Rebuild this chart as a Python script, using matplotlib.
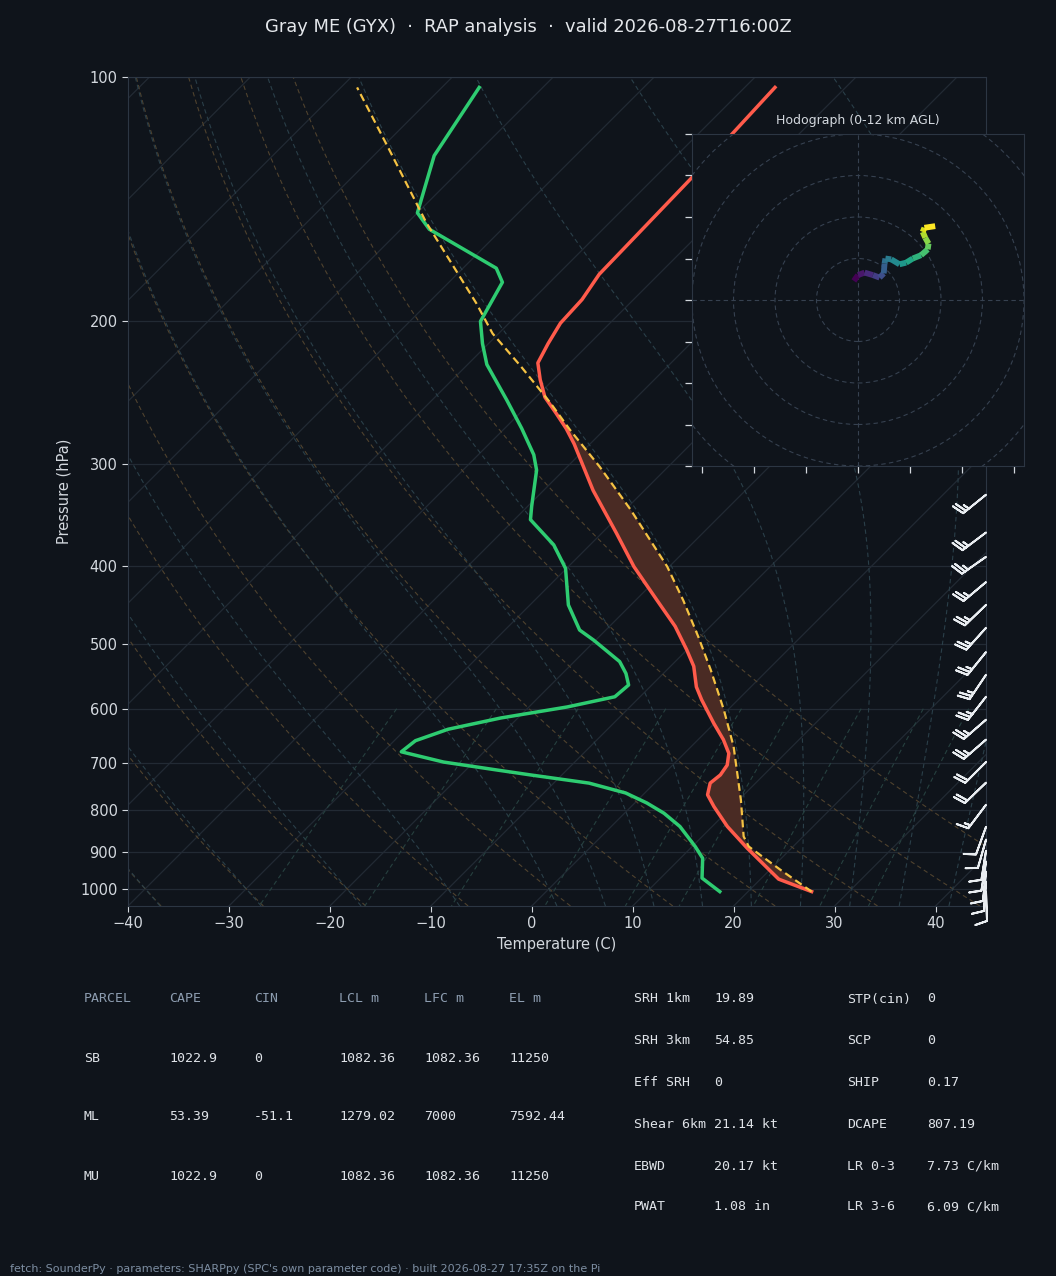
import numpy as np
import matplotlib
matplotlib.use("Agg")
import matplotlib.pyplot as plt
from matplotlib import transforms
from matplotlib.collections import LineCollection
from matplotlib.patches import Circle
from matplotlib.ticker import MultipleLocator, NullLocator, FuncFormatter

# ---- sounding (hPa / degC) ----
temp_p = [1008, 973, 891, 838, 792, 766, 741, 724, 704, 681, 655, 625, 585, 564,
          532, 508, 475, 441, 401, 365, 323, 283, 271, 260, 248, 236, 225, 213,
          201, 188, 175, 133, 103]
temp_c = [26.3, 21.8, 15.6, 11.5, 8.2, 6.4, 5.5, 5.7, 5.4, 4.4, 2.5, -0.1, -3.6, -5.4,
          -7.7, -10.0, -13.5, -17.9, -23.5, -28.5, -35.1, -41.6, -43.9, -46.3, -49.1,
          -51.3, -53.2, -54.1, -54.9, -55.1, -55.9, -56.3, -57.0]

dwpt_p = [1008, 970, 917, 887, 838, 807, 784, 762, 741, 724, 714, 698, 678, 657,
          636, 616, 597, 580, 561, 543, 525, 494, 480, 447, 403, 377, 351, 338,
          305, 292, 271, 250, 226, 213, 200, 179, 172, 154, 147, 125, 103]
dwpt_c = [17.2, 14.1, 12.2, 10.3, 6.8, 3.9, 1.2, -1.9, -6.5, -13.1, -16.9, -23.0,
          -28.2, -27.9, -25.8, -21.7, -16.2, -12.5, -12.3, -13.7, -15.5, -20.2, -22.6,
          -26.2, -30.1, -33.6, -38.4, -39.6, -42.7, -44.5, -48.3, -52.6, -58.1, -60.6,
          -63.0, -64.7, -66.7, -77.2, -80.0, -84.0, -86.3]

parcel_p = [1008, 947, 887, 862, 777, 668, 602, 537, 489, 441, 401, 341, 302, 272,
            252, 227, 207, 190, 151, 123, 103]
parcel_c = [26.3, 21.0, 15.6, 14.1, 10.2, 4.2, -0.4, -5.7, -10.2, -15.3, -20.2, -29.5,
            -36.8, -43.4, -48.0, -54.6, -60.6, -65.2, -78.2, -89.0, -98.4]
el_p = 252

# wind barbs on the right edge (kt, direction of shaft below horizontal in deg)
barb_p = [327, 364, 390, 419, 447, 477, 511, 545, 580, 619, 655, 698, 740, 788,
          839, 870, 898, 926, 953, 980, 1008]
barb_spd = [25, 25, 25, 25, 25, 25, 25, 25, 25, 25, 25, 20, 20, 15,
            10, 10, 10, 10, 10, 10, 10]
barb_ang = [39, 37, 35, 40, 44, 48, 51, 56, 52, 41, 41, 45, 44, 53,
            70, 74, 81, 81, 84, 86, 92]

# hodograph trace (kt)
hodo_u = [-1.0, 0.0, 1.6, 3.6, 5.2, 6.2, 6.4, 6.6, 8.0, 10.0, 11.6, 13.2, 15.2,
          16.8, 17.0, 16.2, 15.6, 16.0, 18.6]
hodo_v = [4.6, 6.0, 6.6, 6.0, 5.4, 6.4, 8.8, 10.0, 9.8, 8.6, 9.0, 10.0, 10.8,
          12.2, 13.6, 15.0, 16.4, 17.4, 17.8]

# ---- table text ----
parcel_head = ["PARCEL", "CAPE", "CIN", "LCL m", "LFC m", "EL m"]
parcel_rows = [["SB", "1022.9", "0", "1082.36", "1082.36", "11250"],
               ["ML", "53.39", "-51.1", "1279.02", "7000", "7592.44"],
               ["MU", "1022.9", "0", "1082.36", "1082.36", "11250"]]
idx_names1 = ["SRH 1km", "SRH 3km", "Eff SRH", "Shear 6km", "EBWD", "PWAT"]
idx_vals1 = ["19.89", "54.85", "0", "21.14 kt", "20.17 kt", "1.08 in"]
idx_names2 = ["STP(cin)", "SCP", "SHIP", "DCAPE", "LR 0-3", "LR 3-6"]
idx_vals2 = ["0", "0", "0.17", "807.19", "7.73 C/km", "6.09 C/km"]

BG = "#0f141b"
SPINE = "#2c3643"
GRID = "#222a34"
TXT = "#d3d8de"
W, H = 1056, 1276

fig = plt.figure(figsize=(W / 100, H / 100), dpi=100, facecolor=BG)
ax = fig.add_axes([128 / W, 1 - 906 / H, 858 / W, 829 / H])
ax.set_facecolor(BG)
ax.set_yscale("log")
ax.set_ylim(1050, 100)
ax.set_xlim(-40, 45)
ax.autoscale(False)

# 45 degree skew, done in axes space so it follows the axes size
shear = np.arctan(829 / 858)
skew = (ax.transData + ax.transAxes.inverted()
        + transforms.Affine2D().skew(shear, 0) + ax.transAxes)

# isobars / isotherms
for p in range(100, 1100, 100):
    ax.axhline(p, color=GRID, lw=0.9, zorder=1)
for t in range(-130, 50, 10):
    ax.plot([t, t], [1050, 100], transform=skew, color=GRID, lw=0.9, zorder=1)

# dry adiabats
p_bg = np.linspace(1050, 100, 120)
for t0 in np.arange(-40, 51, 10):
    t = (t0 + 273.15) * (p_bg / 1000.0) ** 0.2857 - 273.15
    ax.plot(t, p_bg, transform=skew, color="#4f422e", lw=0.8, ls=(0, (4, 3)), zorder=2)

# moist adiabats (simple RK4 on dT/dp)
def dtdp(t, p):
    es = 6.112 * np.exp(17.67 * (t - 273.15) / (t - 29.65))
    rs = 0.622 * es / (p - es)
    num = 287.04 * t + 2.501e6 * rs
    den = 1005.7 + 2.501e6 ** 2 * rs * 0.622 / (287.04 * t * t)
    return num / den / p

def moist_curve(t0, pres):
    out = [t0]
    t = t0
    for a, b in zip(pres[:-1], pres[1:]):
        h = b - a
        k1 = dtdp(t, a)
        k2 = dtdp(t + 0.5 * h * k1, a + 0.5 * h)
        k3 = dtdp(t + 0.5 * h * k2, a + 0.5 * h)
        k4 = dtdp(t + h * k3, b)
        t = t + h / 6 * (k1 + 2 * k2 + 2 * k3 + k4)
        out.append(t)
    return np.array(out)

p_up = np.linspace(1000, 100, 180)
p_dn = np.linspace(1000, 1050, 12)
for t0 in np.concatenate((np.arange(-40, 0, 10), np.arange(0, 46, 5))):
    tk = t0 + 273.15
    up = moist_curve(tk, p_up)
    dn = moist_curve(tk, p_dn)
    tt = np.concatenate((dn[::-1], up[1:])) - 273.15
    pp = np.concatenate((p_dn[::-1], p_up[1:]))
    ax.plot(tt, pp, transform=skew, color="#2a3f49", lw=0.8, ls=(0, (4, 3)), zorder=2)

# mixing ratio lines
p_mr = np.linspace(600, 1050, 30)
for w in [0.0004, 0.001, 0.002, 0.004, 0.007, 0.01, 0.016, 0.024, 0.032]:
    e = w * p_mr / (0.622 + w)
    le = np.log(e / 6.112)
    td = 243.5 * le / (17.67 - le)
    ax.plot(td, p_mr, transform=skew, color="#26403f", lw=0.8, ls=(0, (4, 3)), zorder=2)

# CAPE shading between parcel and environment
pp_ = np.array(parcel_p)
tp_ = np.array(temp_p)
fill_t = np.concatenate((np.array(parcel_c)[pp_ >= el_p], np.array(temp_c)[tp_ >= el_p][::-1]))
fill_p = np.concatenate((pp_[pp_ >= el_p], tp_[tp_ >= el_p][::-1]))
ax.fill(fill_t, fill_p, transform=skew, color="#4a2b24", lw=0, zorder=3)

ax.plot(temp_c, temp_p, transform=skew, color="#ff5b4b", lw=2.5, zorder=5)
ax.plot(dwpt_c, dwpt_p, transform=skew, color="#2ecc71", lw=2.5, zorder=5)
ax.plot(parcel_c, parcel_p, transform=skew, color="#f5c243", lw=1.6,
        ls=(0, (3.5, 2)), zorder=6)

# barbs pinned to the right spine
ang = np.radians(barb_ang)
bu = np.array(barb_spd) * np.cos(ang)
bv = np.array(barb_spd) * np.sin(ang)
bx = np.ones(len(barb_p))
ax.barbs(bx, barb_p, bu, bv, length=6.5, color="#e9edf1", lw=1.4, clip_on=False,
         transform=transforms.blended_transform_factory(ax.transAxes, ax.transData),
         zorder=7)

ax.set_ylim(1050, 100)
ax.set_xlim(-40, 45)
ax.yaxis.set_major_locator(MultipleLocator(100))
ax.yaxis.set_minor_locator(NullLocator())
ax.yaxis.set_major_formatter(FuncFormatter(lambda v, pos: f"{v:.0f}"))
ax.xaxis.set_major_locator(MultipleLocator(10))
ax.tick_params(colors=TXT, labelsize=10.5, length=4, width=0.8)
for s in ax.spines.values():
    s.set_color(SPINE)
ax.set_xlabel("Temperature (C)", color=TXT, fontsize=10.5, labelpad=4)
ax.set_ylabel("Pressure (hPa)", color=TXT, fontsize=10.5, labelpad=6)

# ---- hodograph inset ----
hax = fig.add_axes([692 / W, 1 - 466 / H, 332 / W, 332 / H])
hax.set_facecolor(BG)
hax.set_xlim(-40, 40)
hax.set_ylim(-40, 40)
for r in range(10, 60, 10):
    hax.add_patch(Circle((0, 0), r, fill=False, ls=(0, (4, 3)), color="#364150", lw=0.8))
hax.axhline(0, color="#364150", ls=(0, (4, 3)), lw=0.8)
hax.axvline(0, color="#364150", ls=(0, (4, 3)), lw=0.8)
pts = np.column_stack([hodo_u, hodo_v])
segs = np.stack([pts[:-1], pts[1:]], axis=1)
lc = LineCollection(segs, cmap="viridis", linewidth=4.2)
lc.set_array(np.arange(len(segs)))
hax.add_collection(lc)
hax.set_xticks([-37.5, -25, -12.5, 0, 12.5, 25, 37.5])
hax.set_yticks(range(-40, 41, 10))
hax.tick_params(labelleft=False, labelbottom=False, colors=TXT, length=5, width=0.9)
for s in hax.spines.values():
    s.set_color(SPINE)
hax.set_title("Hodograph (0-12 km AGL)", color=TXT, fontsize=9, pad=7)

# ---- titles and tables ----
fig.text(0.5, 1 - 27 / H, "Gray ME (GYX)  \u00b7  RAP analysis  \u00b7  valid 2026-08-27T16:00Z",
         ha="center", va="center", color="#e4e7eb", fontsize=12.9)

mono = dict(family="DejaVu Sans Mono", fontsize=9.5, va="center", ha="left")
col_x = [84, 169, 254, 339, 424, 509]
row_y = [999, 1058, 1117, 1176]
for x, s in zip(col_x, parcel_head):
    fig.text(x / W, 1 - row_y[0] / H, s, color="#8d9db0", **mono)
for y, row in zip(row_y[1:], parcel_rows):
    for x, s in zip(col_x, row):
        fig.text(x / W, 1 - y / H, s, color="#dfe3e8", **mono)

idx_y = [999, 1041, 1083, 1124, 1166, 1207]
for y, a, b, c, d in zip(idx_y, idx_names1, idx_vals1, idx_names2, idx_vals2):
    fig.text(634 / W, 1 - y / H, a, color="#dfe3e8", **mono)
    fig.text(714 / W, 1 - y / H, b, color="#dfe3e8", **mono)
    fig.text(847 / W, 1 - y / H, c, color="#dfe3e8", **mono)
    fig.text(927 / W, 1 - y / H, d, color="#dfe3e8", **mono)

fig.text(10 / W, 1 - 1269 / H,
         "fetch: SounderPy \u00b7 parameters: SHARPpy (SPC's own parameter code) \u00b7 built 2026-08-27 17:35Z on the Pi",
         color="#7d8ea2", fontsize=8, va="center", ha="left")

fig.savefig("out.png", dpi=100, facecolor=BG)
